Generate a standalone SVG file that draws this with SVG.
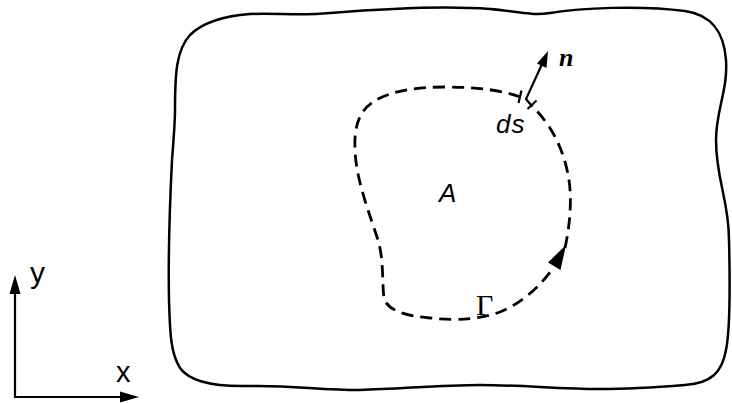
<svg xmlns="http://www.w3.org/2000/svg" width="732" height="403" viewBox="0 0 732 403">
<style>
.line{fill:none;stroke:#000;stroke-width:2.5;stroke-linecap:round;stroke-linejoin:round}
.dash{fill:none;stroke:#000;stroke-width:2.8;stroke-dasharray:12 7}
.thin{fill:none;stroke:#000;stroke-width:2.2}
.head{fill:#000;stroke:none}
.sans{font-family:"Liberation Sans",Arial,sans-serif;fill:#000}
.serif{font-family:"Liberation Serif","Times New Roman",serif;fill:#000}
</style>
<rect width="732" height="403" fill="#fff"/>
<g id="body">
<path class="line" d="M 175,110 C 175,75 176,50 190,35 C 203,22 225,16 250,14 C 280,13 300,16 330,13 C 380,9 440,5 490,9 C 515,11 530,16 550,13 C 580,8 640,5 685,11 C 712,15 724,32 726,60 C 728,90 716,110 716,140 C 716,180 729,200 729,240 C 730,280 730,330 726,350 C 722,372 712,383 685,385 C 660,387 630,389 600,389 C 560,389 520,385 480,385 C 440,385 400,389 360,390 C 320,390 290,385 250,386 C 215,387 190,382 180,368 C 170,352 170,330 169,300 C 168,250 170,200 172,160 C 174,135 175,120 175,110 Z"/>
</g>
<g id="contour">
<path class="dash" d="M 565,248 C 570,225 572,200 569,180 C 565,155 555,128 531,105"/>
<path class="dash" d="M 520,97 C 505,91 480,87 445,87 C 415,87 390,91 373,102 C 358,112 354,128 355,150 C 356,180 370,215 378,240 C 384,260 382,285 384,298 C 387,310 405,316 430,318 C 460,321 480,319 500,312 C 520,304 540,287 553,268"/>
<polygon class="head" points="566,245 560.5,270 548,262.5"/>
<line class="thin" x1="521.5" y1="90.5" x2="518.5" y2="103"/>
<line class="thin" x1="527.5" y1="109" x2="536.5" y2="100.5"/>
</g>
<g id="normal">
<polyline class="thin" points="531,105 526,99 543,62"/>
<polygon class="head" points="548,51 546.5,68 537,63.5"/>
</g>
<g id="axes">
<polyline class="thin" points="15,292 15,397 122,397"/>
<polygon class="head" points="15,275 9.5,294 20.5,294"/>
<polygon class="head" points="139,397 120,391.5 120,402.5"/>
</g>
<g id="labels">
<text class="sans" x="30" y="283" font-size="30">y</text>
<text class="sans" x="116" y="382" font-size="29">x</text>
<text class="sans" x="439" y="202" font-size="26" font-style="italic">A</text>
<text class="sans" x="496" y="133" font-size="26" font-style="italic" letter-spacing="1">ds</text>
<text class="serif" x="476" y="315" font-size="30">Γ</text>
<text class="serif" x="559" y="66" font-size="26" font-style="italic" font-weight="bold">n</text>
</g>
</svg>
